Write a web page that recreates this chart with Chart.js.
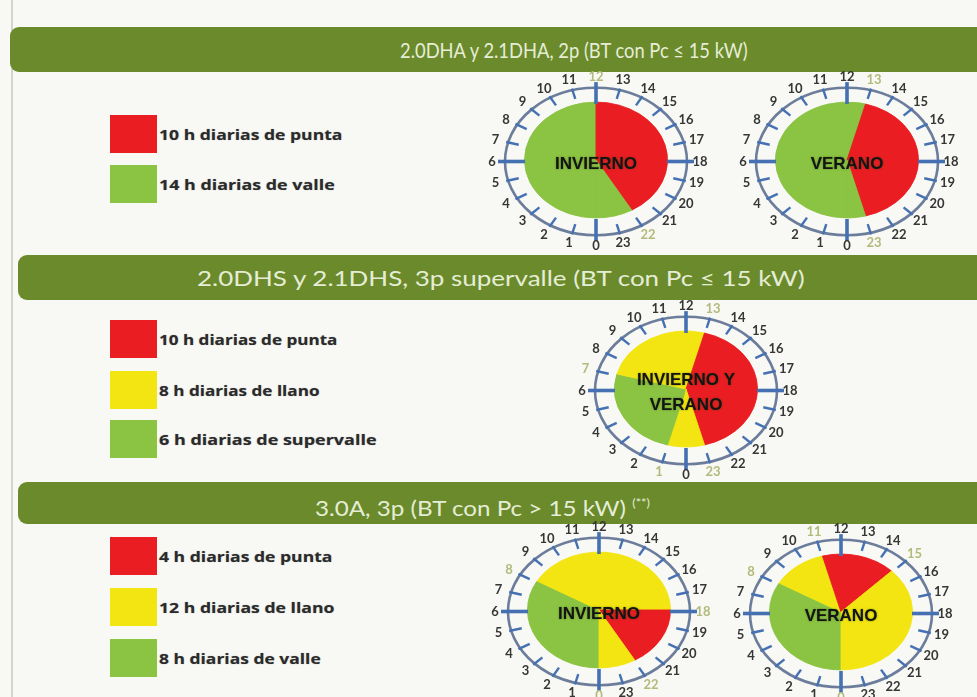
<!DOCTYPE html>
<html>
<head>
<meta charset="utf-8">
<script src="https://cdn.jsdelivr.net/npm/chart.js@4.4.1/dist/chart.umd.min.js"></script>
<style>
  body { margin: 0; width: 977px; height: 697px; overflow: hidden; position: relative; background: #f8f8f4; font-family: Lato, 'Open Sans', sans-serif; }
  .linea { position: absolute; left: 11px; top: 0; width: 2px; height: 697px; background: #d4d4cc; }
  .cab { position: absolute; right: 0; background: #6a8a2c; border-radius: 9px 0 0 9px; }
  .cab span { position: absolute; top: 0; white-space: nowrap; color: #e6edd5; transform-origin: 0 50%; }
  .cab sup { font-size: 11px; vertical-align: 9px; }
  .caja { position: absolute; left: 110px; width: 47px; height: 38px; }
  .ley { position: absolute; left: 159px; white-space: nowrap; font-family: 'Open Sans', sans-serif; font-weight: 700; font-size: 14px; color: #2b2b2b; line-height: 38px; transform-origin: 0 50%; text-shadow: 0 0 1px rgba(0,0,0,0.35); }
  canvas { position: absolute; }
</style>
</head>
<body>
<div class="linea"></div>
<div id="cont"></div>
<script>
// periodos tarifarios: horas de cada tramo, empezando a las 0 h y en sentido horario
const horas = ['0','1','2','3','4','5','6','7','8','9','10','11','12','13','14','15','16','17','18','19','20','21','22','23'];

const dhaInviernoHoras = [12, 10, 2];
const dhaInviernoTipo  = ['valle', 'punta', 'valle'];
const dhaVeranoHoras   = [13, 10, 1];
const dhaVeranoTipo    = ['valle', 'punta', 'valle'];

const dhsHoras = [1, 6, 6, 10, 1];
const dhsTipo  = ['llano', 'supervalle', 'llano', 'punta', 'llano'];

const a3InviernoHoras = [8, 10, 4, 2];
const a3InviernoTipo  = ['valle', 'llano', 'punta', 'llano'];
const a3VeranoHoras   = [8, 3, 4, 9];
const a3VeranoTipo    = ['valle', 'llano', 'punta', 'llano'];

const titulos = ['2.0DHA y 2.1DHA, 2p (BT con Pc ≤ 15 kW)', '2.0DHS y 2.1DHS, 3p supervalle (BT con Pc ≤ 15 kW)', '3.0A, 3p (BT con Pc > 15 kW)'];

const leyenda1 = ['10 h diarias de punta', '14 h diarias de valle'];
const leyenda1Tipo = ['punta', 'valle'];
const leyenda2 = ['10 h diarias de punta', '8 h diarias de llano', '6 h diarias de supervalle'];
const leyenda2Tipo = ['punta', 'llano', 'supervalle'];
const leyenda3 = ['4 h diarias de punta', '12 h diarias de llano', '8 h diarias de valle'];
const leyenda3Tipo = ['punta', 'llano', 'valle'];

const COL = { punta: '#e91d22', llano: '#f2e512', valle: '#8bc342', supervalle: '#8bc342' };

const cont = document.getElementById('cont');

function fit(el, w) { el.style.transform = `scaleX(${w / el.offsetWidth})`; }

// cabeceras verdes
[
  { top: 27, h: 45, left: 10, tx: 400, w: 348, fs: 22, html: titulos[0] },
  { top: 255, h: 45, left: 18, tx: 197, w: 608, fs: 22, html: titulos[1] },
  { top: 482, h: 42, left: 18, tx: 315, w: 335, fs: 21, html: titulos[2].replace('>', '&gt;') + ' <sup>(**)</sup>' }
].forEach(c => {
  const d = document.createElement('div');
  d.className = 'cab';
  Object.assign(d.style, { top: c.top + 'px', height: c.h + 'px', left: c.left + 'px' });
  const s = document.createElement('span');
  s.innerHTML = c.html;
  Object.assign(s.style, { left: (c.tx - c.left) + 'px', fontSize: c.fs + 'px', lineHeight: c.h + 'px' });
  d.appendChild(s); cont.appendChild(d);
  fit(s, c.w);
});

// leyendas
function leyenda(textos, tipos, y0, anchos) {
  textos.forEach((t, i) => {
    const y = y0[i];
    const b = document.createElement('div');
    b.className = 'caja'; b.style.top = y + 'px'; b.style.background = COL[tipos[i]];
    cont.appendChild(b);
    const l = document.createElement('div');
    l.className = 'ley'; l.style.top = (y + 1) + 'px'; l.textContent = t;
    cont.appendChild(l);
    fit(l, anchos[i]);
  });
}
leyenda(leyenda1, leyenda1Tipo, [115, 165], [183, 176]);
leyenda(leyenda2, leyenda2Tipo, [320, 371, 420], [178, 160, 217]);
leyenda(leyenda3, leyenda3Tipo, [537, 588, 639], [173, 175, 162]);

// reloj de 24 h alrededor de la tarta (elíptico)
const K = 0.81;
const relojPlugin = {
  id: 'reloj',
  beforeDatasetsDraw(chart) {
    const a = chart.getDatasetMeta(0).data[0];
    const ctx = chart.ctx;
    ctx.save();
    ctx.translate(a.x, a.y); ctx.scale(1, K); ctx.translate(-a.x, -a.y);
  },
  afterDatasetsDraw(chart, args, opts) {
    const ctx = chart.ctx;
    ctx.restore();
    const a = chart.getDatasetMeta(0).data[0];
    const cx = a.x, cy = a.y;
    const pt = (h, r) => { const t = (180 + h * 15) * Math.PI / 180; return [cx + r * Math.sin(t), cy + 1.5 - r * K * Math.cos(t)]; };
    // anillo
    ctx.save();
    ctx.strokeStyle = '#6c7d9c'; ctx.lineWidth = 2.6;
    ctx.beginPath(); ctx.ellipse(cx, cy + 1.5, 91, 91 * K, 0, 0, Math.PI * 2); ctx.stroke();
    // marcas
    ctx.strokeStyle = '#4571b3'; ctx.lineCap = 'butt';
    horas.forEach((lab, h) => {
      const mayor = h % 6 === 0;
      const p1 = pt(h, mayor ? 98 : 93), p2 = pt(h, mayor ? 71 : 80);
      ctx.lineWidth = mayor ? 3.6 : 2.4;
      ctx.beginPath(); ctx.moveTo(p1[0], p1[1]); ctx.lineTo(p2[0], p2[1]); ctx.stroke();
    });
    // números
    ctx.font = 'bold 13px Lato, sans-serif';
    ctx.textAlign = 'center'; ctx.textBaseline = 'middle';
    horas.forEach((lab, h) => {
      const p = pt(h, 104);
      ctx.fillStyle = opts.destacadas.includes(h) ? '#b3ba7c' : '#363636';
      ctx.fillText(lab, p[0], p[1]);
    });
    // rótulo central
    ctx.font = 'bold 17px "Liberation Sans", Arial, sans-serif';
    ctx.fillStyle = '#141414';
    ctx.shadowColor = 'rgba(40,70,10,0.55)'; ctx.shadowBlur = 2;
    const n = opts.texto.length;
    opts.texto.forEach((t, i) => ctx.fillText(t, cx, cy + 4 + (i - (n - 1) / 2) * 25));
    ctx.restore();
  }
};

function cambios(hs, tipos) {
  const out = []; let acc = 0;
  hs.forEach((v, i) => { acc += v; if (tipos[i] !== tipos[(i + 1) % tipos.length]) out.push(acc % 24); });
  return out;
}

function reloj(cx, cy, hs, tipos, texto) {
  const c = document.createElement('canvas');
  c.width = 240; c.height = 200;
  c.style.left = (cx - 120) + 'px'; c.style.top = (cy - 100) + 'px';
  cont.appendChild(c);
  const cols = tipos.map(t => COL[t]);
  new Chart(c.getContext('2d'), {
    type: 'pie',
    data: { labels: tipos, datasets: [{ data: hs, backgroundColor: cols, borderColor: cols, borderWidth: 1 }] },
    options: {
      responsive: false, animation: false, rotation: 180,
      layout: { padding: { top: 28, bottom: 28, left: 20, right: 20 } },
      plugins: { legend: { display: false }, tooltip: { enabled: false }, reloj: { texto: texto, destacadas: cambios(hs, tipos) } }
    },
    plugins: [relojPlugin]
  });
}

reloj(596, 160, dhaInviernoHoras, dhaInviernoTipo, ['INVIERNO']);
reloj(847, 160, dhaVeranoHoras, dhaVeranoTipo, ['VERANO']);
reloj(686, 389, dhsHoras, dhsTipo, ['INVIERNO Y', 'VERANO']);
reloj(599, 610, a3InviernoHoras, a3InviernoTipo, ['INVIERNO']);
reloj(841, 612, a3VeranoHoras, a3VeranoTipo, ['VERANO']);
</script>
</body>
</html>
